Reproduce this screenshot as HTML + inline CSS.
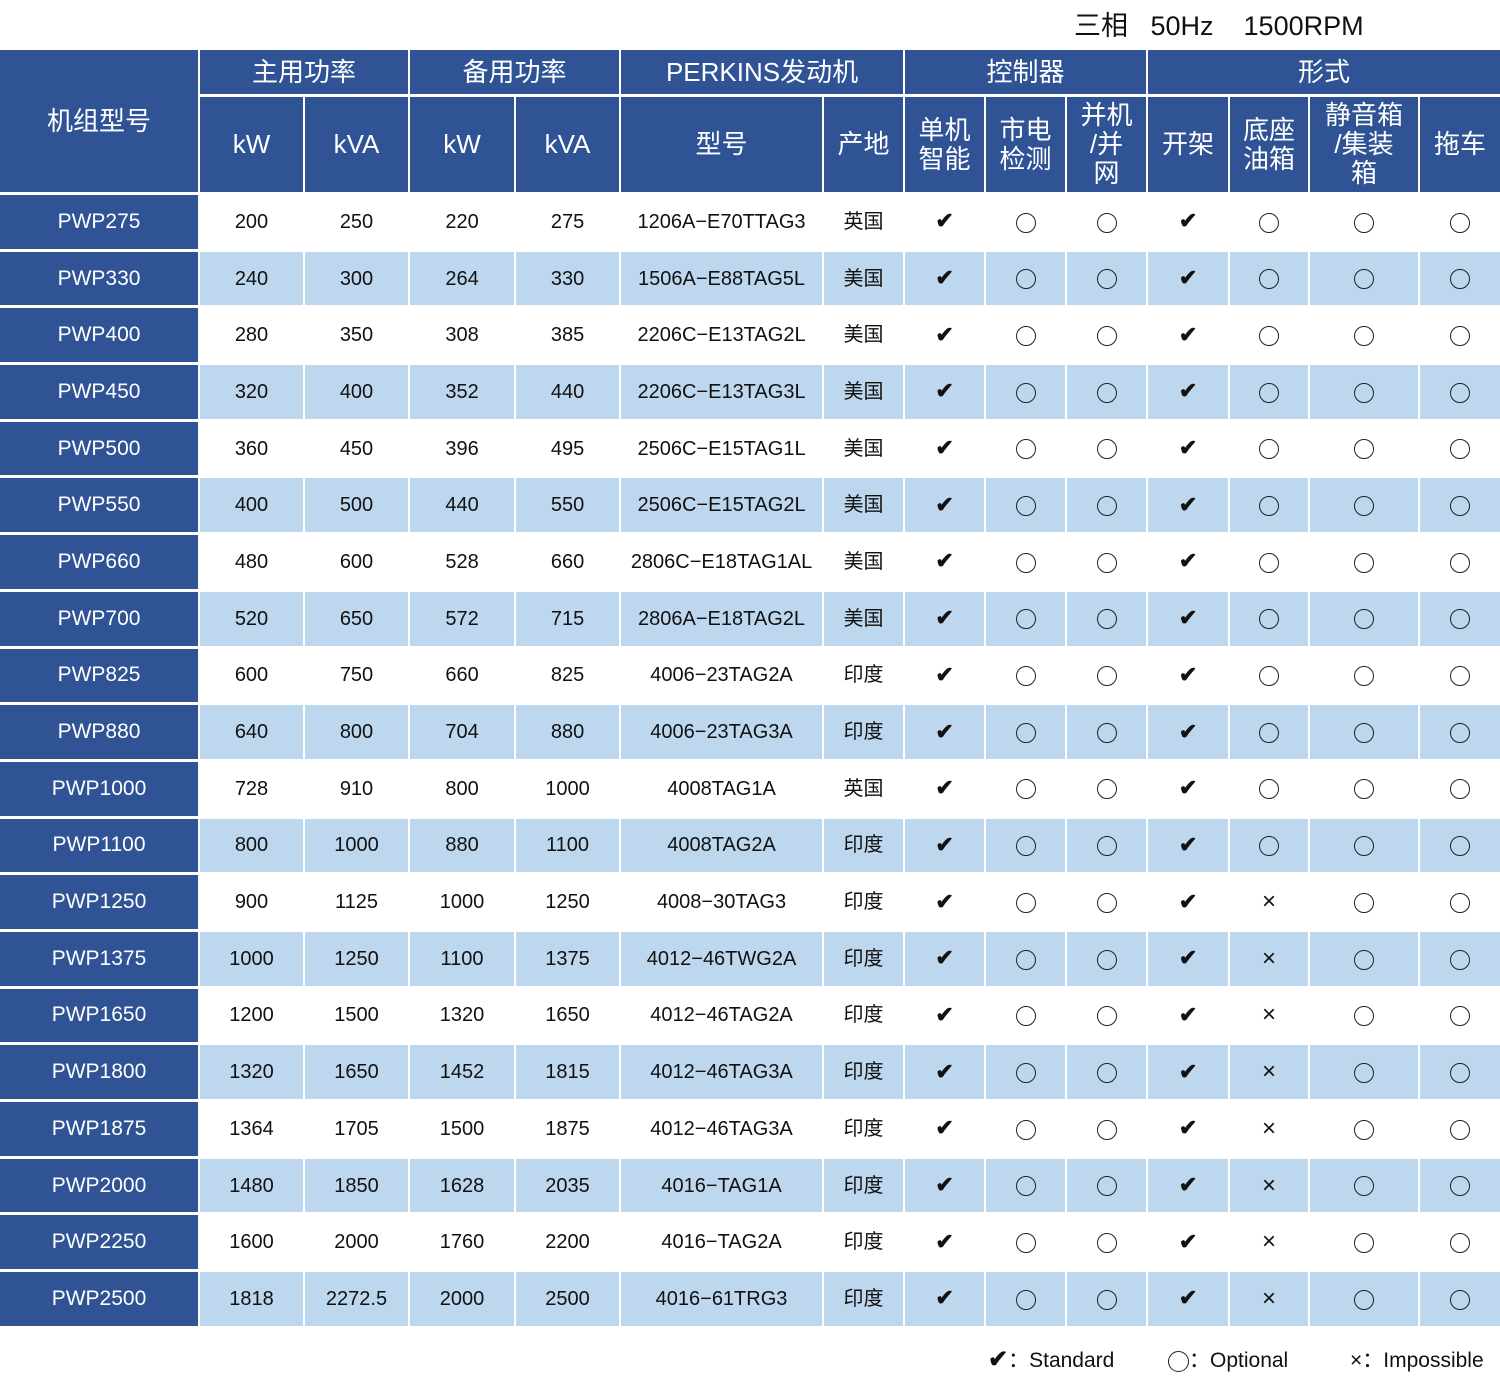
<!DOCTYPE html>
<html><head><meta charset="utf-8"><style>
body{margin:0;width:1500px;height:1390px;background:#fff;position:relative;overflow:hidden;font-family:"Liberation Sans","Noto Sans CJK SC",sans-serif;}
.title{position:absolute;top:4px;left:1074px;font-size:27px;color:#111;white-space:pre;}
table{position:absolute;left:-2px;top:47px;width:1504px;border-collapse:separate;border-spacing:2px 3px;table-layout:fixed;}
td{padding:0;text-align:center;vertical-align:middle;font-size:20px;color:#111;line-height:24px;}
.h{background:#2f5394;color:#fff;font-size:26px;line-height:29px;}
.m{background:#2f5394;color:#fff;font-size:21px;}
tr.b td{background:#bdd7ee;}
tr.b td.m{background:#2f5394;}
tr.d td{height:53.7px;}
.o{display:inline-block;width:18px;height:18px;border:1.6px solid #222;border-radius:50%;vertical-align:middle;}
.c{font-size:22px;font-weight:bold;}
.x{font-size:24px;}
.leg{position:absolute;top:1344px;font-size:21px;color:#111;white-space:pre;}
</style></head><body>
<div class="title">三相   50Hz    1500RPM</div>
<table>
<colgroup><col style="width:198px"><col style="width:103px"><col style="width:103px"><col style="width:104px"><col style="width:103px"><col style="width:201px"><col style="width:79px"><col style="width:79px"><col style="width:79px"><col style="width:79px"><col style="width:80px"><col style="width:78px"><col style="width:108px"><col style="width:80px"></colgroup>
<tr style="height:44px"><td class="h" rowspan="2">机组型号</td><td class="h" colspan="2">主用功率</td><td class="h" colspan="2">备用功率</td><td class="h" colspan="2">PERKINS发动机</td><td class="h" colspan="3">控制器</td><td class="h" colspan="4">形式</td></tr>
<tr style="height:95px"><td class="h">kW</td><td class="h">kVA</td><td class="h">kW</td><td class="h">kVA</td><td class="h">型号</td><td class="h">产地</td><td class="h">单机<br>智能</td><td class="h">市电<br>检测</td><td class="h">并机<br>/并<br>网</td><td class="h">开架</td><td class="h">底座<br>油箱</td><td class="h">静音箱<br>/集装<br>箱</td><td class="h">拖车</td></tr>
<tbody id="tb"></tbody>
</table>
<div class="leg" style="left:988px"><span style="font-weight:bold;font-size:24px">✔</span>：Standard</div>
<div class="leg" style="left:1168px"><span class="o" style="width:19px;height:19px"></span>：Optional</div>
<div class="leg" style="left:1350px">×：Impossible</div>
<script>
var d=[["PWP275",200,250,220,275,"1206A−E70TTAG3","英国",0],["PWP330",240,300,264,330,"1506A−E88TAG5L","美国",0],["PWP400",280,350,308,385,"2206C−E13TAG2L","美国",0],["PWP450",320,400,352,440,"2206C−E13TAG3L","美国",0],["PWP500",360,450,396,495,"2506C−E15TAG1L","美国",0],["PWP550",400,500,440,550,"2506C−E15TAG2L","美国",0],["PWP660",480,600,528,660,"2806C−E18TAG1AL","美国",0],["PWP700",520,650,572,715,"2806A−E18TAG2L","美国",0],["PWP825",600,750,660,825,"4006−23TAG2A","印度",0],["PWP880",640,800,704,880,"4006−23TAG3A","印度",0],["PWP1000",728,910,800,1000,"4008TAG1A","英国",0],["PWP1100",800,1000,880,1100,"4008TAG2A","印度",0],["PWP1250",900,1125,1000,1250,"4008−30TAG3","印度",1],["PWP1375",1000,1250,1100,1375,"4012−46TWG2A","印度",1],["PWP1650",1200,1500,1320,1650,"4012−46TAG2A","印度",1],["PWP1800",1320,1650,1452,1815,"4012−46TAG3A","印度",1],["PWP1875",1364,1705,1500,1875,"4012−46TAG3A","印度",1],["PWP2000",1480,1850,1628,2035,"4016−TAG1A","印度",1],["PWP2250",1600,2000,1760,2200,"4016−TAG2A","印度",1],["PWP2500",1818,"2272.5",2000,2500,"4016−61TRG3","印度",1]];
var h="",C='<td><span class="c">✔</span></td>',O='<td><span class="o"></span></td>';
d.forEach(function(r,i){h+='<tr class="d'+(i%2?' b':'')+'"><td class="m">'+r[0]+'</td>';for(var k=1;k<7;k++)h+='<td>'+r[k]+'</td>';h+=C+O+O+C+(r[7]?'<td class="x">×</td>':O)+O+O+'</tr>';});
document.getElementById('tb').innerHTML=h;
</script>
</body></html>
